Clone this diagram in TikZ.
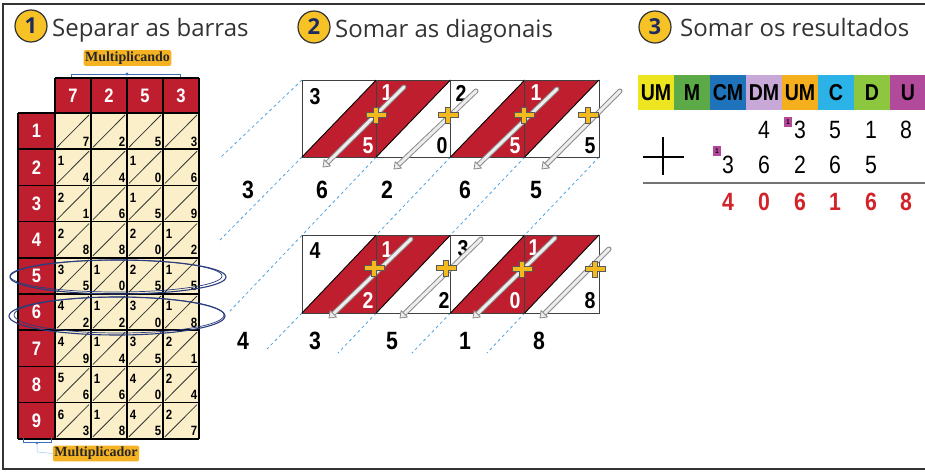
\documentclass[tikz,border=0pt]{standalone}
\usepackage{fontspec}
\setmainfont{Open Sans}
\newfontfamily\cond[FakeStretch=0.85]{Liberation Sans}
\newfontfamily\labserif{Liberation Serif}
\usetikzlibrary{calc}
\definecolor{barred}{HTML}{BE1E2D}
\definecolor{cream}{HTML}{FAEFC9}
\definecolor{dashblue}{HTML}{4DA3E3}
\definecolor{ringblue}{HTML}{2B3D7E}
\definecolor{tagorange}{HTML}{F5B324}
\definecolor{titlegray}{HTML}{333333}
\definecolor{plusyellow}{HTML}{F5B920}
\definecolor{rodgray}{HTML}{8C8C8C}
\definecolor{rodfill}{HTML}{EDEDED}
\definecolor{circyellow}{HTML}{F7C226}
\definecolor{digitnavy}{HTML}{1E2B5E}
\definecolor{resred}{HTML}{D2232A}
\definecolor{bracketblue}{HTML}{3D6FB6}
\definecolor{hUMa}{HTML}{EEE521}
\definecolor{hM}{HTML}{5BAA47}
\definecolor{hCM}{HTML}{1E73BA}
\definecolor{hDM}{HTML}{C7A8D6}
\definecolor{hUMb}{HTML}{F6AF1C}
\definecolor{hC}{HTML}{2BB3E7}
\definecolor{hD}{HTML}{8DC63F}
\definecolor{hU}{HTML}{B24A9B}
\definecolor{carrymag}{HTML}{B4479A}
\newcommand\rodarrow[2]{%
  \draw[rodgray, line width=5pt, line cap=round, shorten >=5pt] (#1) -- (#2);
  \draw[rodfill, line width=3pt, line cap=round, shorten >=5pt] (#1) -- (#2);
  \coordinate (hb) at ($(#2)!6pt!(#1)$);
  \filldraw[fill=rodfill, draw=rodgray, line width=0.8pt, line join=round] (#2) -- ($(hb)!4.5pt!90:(#2)$) -- ($(hb)!4.5pt!-90:(#2)$) -- cycle;
}
\tikzset{
  plusmark/.pic={\filldraw[fill=plusyellow, draw=black!65, line width=0.6pt] (-10,-2.5) -- (-2.5,-2.5) -- (-2.5,-8) -- (2.5,-8) -- (2.5,-2.5) -- (10,-2.5) -- (10,2.5) -- (2.5,2.5) -- (2.5,8) -- (-2.5,8) -- (-2.5,2.5) -- (-10,2.5) -- cycle;},
  gdig/.style={font=\cond\bfseries\fontsize{13.5}{13.5}\selectfont, inner sep=0pt},
  hdig/.style={font=\cond\bfseries\fontsize{19.5}{19.5}\selectfont, text=white, inner sep=0pt},
  pdig/.style={font=\cond\bfseries\fontsize{23}{23}\selectfont, inner sep=0pt},
  sdig/.style={font=\cond\bfseries\fontsize{25}{25}\selectfont, inner sep=0pt},
  tdig/.style={font=\cond\fontsize{25}{25}\selectfont, inner sep=0pt},
  rdig/.style={font=\cond\bfseries\fontsize{25}{25}\selectfont, text=resred, inner sep=0pt},
  hlab/.style={font=\cond\bfseries\fontsize{23}{23}\selectfont, inner sep=0pt},
  gridline/.style={line width=1.6pt, black},
  dashl/.style={dashblue, line width=0.8pt, dash pattern=on 3pt off 3pt},
  titletext/.style={anchor=base west, font=\fontsize{24}{24}\selectfont, text=titlegray, inner sep=0pt},
  numcirc/.style={circle, fill=circyellow, draw=black!80, line width=1.2pt, minimum size=32pt, inner sep=0pt, text=digitnavy, font=\bfseries\fontsize{22}{22}\selectfont},
  tagbox/.style={fill=tagorange, rounded corners=2pt, inner sep=1.5pt, font=\labserif\bfseries\fontsize{14}{14}\selectfont, text=black!85},
  cellframe/.style={draw=black!75, line width=1pt},
  carry/.style={fill=carrymag, minimum width=8pt, minimum height=10pt, inner sep=0pt, font=\cond\bfseries\fontsize{7}{7}\selectfont}
}
\begin{document}
\begin{tikzpicture}[x=1pt,y=-1pt]
\useasboundingbox (0,0) rectangle (925,471);
% frame
\draw[black!80, line width=1.5pt] (926,4) -- (3,4) -- (3,469) -- (926,469);

% titles
\node[numcirc] (c1) at (31,26) {1};
\node[titletext] (t1) at (52,36) {Separar as barras};
\node[numcirc] (c2) at (314,27) {2};
\node[titletext] (t2) at (335,37) {Somar as diagonais};
\node[numcirc] (c3) at (655,27) {3};
\node[titletext] (t3) at (680,36) {Somar os resultados};

% ===== left grid =====
\fill[barred] (55,78) rectangle (199,113);
\fill[barred] (18,113) rectangle (55,438.8);
\foreach \m in {1,...,9}{
  \foreach \c [count=\j] in {7,2,5,3}{
    \pgfmathtruncatemacro\gprod{\m*\c}
    \pgfmathtruncatemacro\gten{floor(\gprod/10)}
    \pgfmathtruncatemacro\gunit{\gprod-10*\gten}
    \pgfmathsetmacro\gxa{55+36*(\j-1)}
    \pgfmathsetmacro\gya{113+36.2*(\m-1)}
    \fill[cream] (\gxa,\gya) rectangle ++(36,36.2);
    \draw[black!80, line width=0.8pt] (\gxa+2,\gya+34.2) -- (\gxa+34,\gya+2);
    \ifnum\gten>0 \node[gdig] (gt\m\j) at (\gxa+6,\gya+12) {\gten};\fi
    \node[gdig] (gu\m\j) at (\gxa+31,\gya+28.5) {\gunit};
  }
}
\foreach \j in {0,...,4} \draw[gridline] ({55+36*\j},78) -- ({55+36*\j},438.8);
\draw[gridline] (55,78) -- (199,78);
\foreach \m in {0,...,9} \draw[gridline] (18,{113+36.2*\m}) -- (199,{113+36.2*\m});
\draw[gridline] (18,113) -- (18,438.8);
\foreach \c [count=\j] in {7,2,5,3} \node[hdig] (hd\j) at ({73+36*(\j-1)},95.5) {\c};
\foreach \m in {1,...,9} \node[hdig] (rl\m) at (36.5,{113+36.2*(\m-0.5)}) {\m};

% ellipses
\draw[ringblue, line width=1.1pt] (118,277) ellipse (108 and 17);
\draw[ringblue, line width=0.7pt] (116,276) ellipse (106 and 16);
\draw[ringblue, line width=1.1pt] (117,316) ellipse (108 and 19);
\draw[ringblue, line width=0.7pt] (119,315) ellipse (105 and 18);

% labels
\node[tagbox] (mcando) at (127.5,58) {Multiplicando};
\draw[bracketblue, line width=0.7pt] (71,77) -- (71,74) -- (180,74) -- (180,77);
\fill[bracketblue] (127,74) circle (1.6);
\node[tagbox] (mcador) at (96,453.5) {Multiplicador};
\draw[bracketblue, line width=0.7pt] (23,438) -- (23,442) -- (51,442) -- (51,438);
\fill[bracketblue] (37,443) circle (1.4);
\draw[dashblue!60, line width=0.5pt] (37,443) -- (37,452) -- (mcador.west);

% ===== middle panels =====
% dashed guide lines
\coordinate (a0) at (302,80);   \coordinate (a0e) at (220,158);
\coordinate (b0) at (302,157);  \coordinate (b0e) at (220,240);
\coordinate (b1) at (376.25,157); \coordinate (b1e) at (230,311);
\coordinate (b2) at (450.5,157);  \coordinate (b2e) at (376.25,235);
\coordinate (b3) at (524.75,157); \coordinate (b3e) at (450.5,235);
\coordinate (b4) at (599,157);    \coordinate (b4e) at (524.75,235);
\coordinate (d0) at (302,313);    \coordinate (d0e) at (267,349);
\coordinate (d1) at (376.25,313); \coordinate (d1e) at (338,353);
\coordinate (d2) at (450.5,313);  \coordinate (d2e) at (412,353);
\coordinate (d3) at (524.75,313); \coordinate (d3e) at (487,353);
\foreach \s in {a0,b0,b1,b2,b3,b4,d0,d1,d2,d3} \draw[dashl] (\s) -- (\s e);

% panels
\foreach \yt/\yb in {80/157, 235/313}{
  \fill[white] (302,\yt) rectangle (599,\yb);
  \fill[barred] (302,\yb) -- (376.25,\yt) -- (450.5,\yt) -- (376.25,\yb) -- cycle;
  \fill[barred] (450.5,\yb) -- (524.75,\yt) -- (599,\yt) -- (524.75,\yb) -- cycle;
  \foreach \xl/\xr in {302/376.25, 376.25/450.5, 450.5/524.75, 524.75/599}{
    \draw[cellframe] (\xl,\yt) rectangle (\xr,\yb);
    \draw[black, line width=0.9pt] (\xl,\yb) -- (\xr,\yt);
  }
}
% panel digits (top: 35 10 25 15)
\node[pdig] (p1t) at (315,97) {3};
\node[pdig, text=white] (p1u) at (368,146) {5};
\node[pdig, text=white] (p2t) at (387,93) {1};
\node[pdig] (p2u) at (442,146) {0};
\node[pdig] (p3t) at (461,93) {2};
\node[pdig, text=white] (p3u) at (515,146) {5};
\node[pdig, text=white] (p4t) at (536,93) {1};
\node[pdig] (p4u) at (590,146) {5};
% bottom: 42 12 30 18
\node[pdig] (q1t) at (315,251) {4};
\node[pdig, text=white] (q1u) at (368,300) {2};
\node[pdig, text=white] (q2t) at (387,250) {1};
\node[pdig] (q2u) at (444,300) {2};
\node[pdig] (q3t) at (463,249) {3};
\node[pdig, text=white] (q3u) at (515,301) {0};
\node[pdig, text=white] (q4t) at (534,248) {1};
\node[pdig] (q4u) at (590,301) {8};

% rods
\coordinate (rs1) at (404,87);  \coordinate (rt1) at (323,167);
\coordinate (rs2) at (476,91);  \coordinate (rt2) at (394,169);
\coordinate (rs3) at (557,89);  \coordinate (rt3) at (474,169);
\coordinate (rs4) at (620,91);  \coordinate (rt4) at (542,169);
\coordinate (rs5) at (411,239); \coordinate (rt5) at (329,318);
\coordinate (rs6) at (481,239); \coordinate (rt6) at (400,318);
\coordinate (rs7) at (555,238); \coordinate (rt7) at (473,318);
\coordinate (rs8) at (609,249); \coordinate (rt8) at (540,318);
\foreach \k in {1,...,8} {\rodarrow{rs\k}{rt\k}}

% plus marks
\pic (pa) at (376,115) {plusmark};
\pic (pb) at (448,115) {plusmark};
\pic (pc) at (524,115) {plusmark};
\pic (pd) at (588,115) {plusmark};
\pic (pe) at (374,268) {plusmark};
\pic (pf) at (446,268) {plusmark};
\pic (pg) at (522,269) {plusmark};
\pic (ph) at (595,269) {plusmark};

% sums
\node[sdig] (m5) at (248,190) {3};
\node[sdig] (s1) at (322,190) {6};
\node[sdig] (s2) at (387,190) {2};
\node[sdig] (s3) at (465,190) {6};
\node[sdig] (s4) at (536,190) {5};
\node[sdig] (m6) at (243,341) {4};
\node[sdig] (s5) at (315,341) {3};
\node[sdig] (s6) at (392,341) {5};
\node[sdig] (s7) at (465,341) {1};
\node[sdig] (s8) at (539,341) {8};

% ===== right table =====
\foreach \lab/\col [count=\k] in {UM/hUMa, M/hM, CM/hCM, DM/hDM, UM/hUMb, C/hC, D/hD, U/hU}{
  \fill[\col] ({638+36*(\k-1)},75) rectangle ++(36,35);
  \node[hlab] (th\k) at ({656+36*(\k-1)},92.5) {\lab};
}
\foreach \d/\xx [count=\k] in {4/764, 3/800, 5/835, 1/871, 8/906} \node[tdig] (ra\k) at (\xx,130) {\d};
\foreach \d/\xx [count=\k] in {3/728, 6/764, 2/800, 6/835, 5/871} \node[tdig] (rb\k) at (\xx,165) {\d};
\foreach \d/\xx [count=\k] in {4/728, 0/764, 6/800, 1/835, 6/871, 8/906} \node[rdig] (rc\k) at (\xx,202) {\d};
\node[carry] (k1) at (788,122) {1};
\node[carry] (k2) at (717,151) {1};
\coordinate (ph1) at (643,157); \coordinate (ph2) at (684,157);
\coordinate (pv1) at (663,137); \coordinate (pv2) at (663,175);
\draw[black, line width=1.4pt] (ph1) -- (ph2);
\draw[black, line width=1.4pt] (pv1) -- (pv2);
\coordinate (sl1) at (643,183); \coordinate (sl2) at (925,183);
\draw[black!55, line width=1.2pt] (sl1) -- (sl2);
\end{tikzpicture}
\end{document}
